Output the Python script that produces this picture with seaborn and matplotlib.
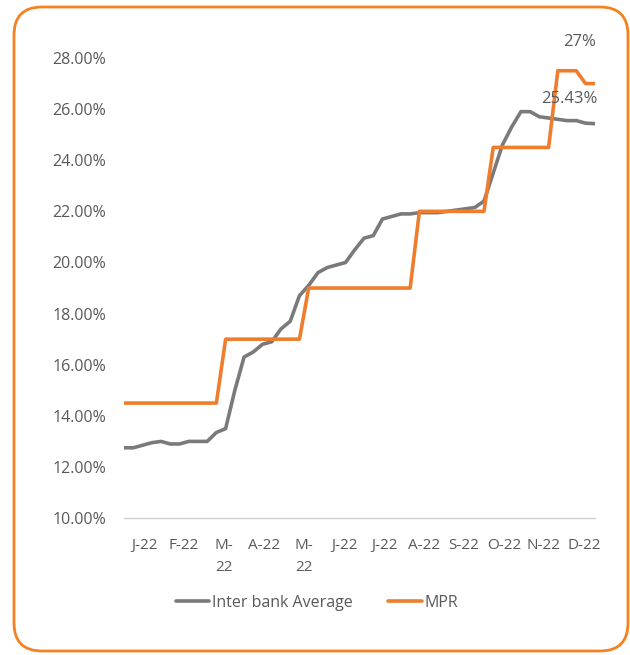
import matplotlib
matplotlib.use("Agg")
import matplotlib.pyplot as plt
import matplotlib.patches as mpatches
import numpy as np
import pandas as pd
import seaborn as sns

# weekly readings across 2022 (week 0 .. 51)
weeks = list(range(52))
interbank = [12.75, 12.75, 12.85, 12.95, 13.0, 12.9, 12.9, 13.0, 13.0, 13.0,
             13.35, 13.5, 15.0, 16.3, 16.5, 16.8, 16.9, 17.4, 17.7, 18.7,
             19.1, 19.6, 19.8, 19.9, 20.0, 20.5, 20.95, 21.05, 21.7, 21.8,
             21.9, 21.9, 21.95, 21.95, 21.95, 22.0, 22.05, 22.1, 22.15, 22.4,
             23.5, 24.6, 25.3, 25.9, 25.9, 25.7, 25.65, 25.6, 25.55, 25.55,
             25.45, 25.43]
mpr = [14.5] * 11 + [17.0] * 9 + [19.0] * 12 + [22.0] * 8 + [24.5] * 7 + [27.5] * 3 + [27.0] * 2
month_labels = ["J-22", "F-22", "M-\n22", "A-22", "M-\n22", "J-22", "J-22",
                "A-22", "S-22", "O-22", "N-22", "D-22"]
yticks = [10, 12, 14, 16, 18, 20, 22, 24, 26, 28]

df = pd.DataFrame({"week": weeks, "Inter bank Average": interbank, "MPR": mpr})
long = df.melt(id_vars="week", var_name="series", value_name="rate")

sns.set_style("white")
plt.rcParams["font.family"] = ["Open Sans", "DejaVu Sans"]

fig = plt.figure(figsize=(6.3, 6.55), dpi=100)
ax = fig.add_axes([0.197, 0.209, 0.747, 0.7025])

sns.lineplot(data=long, x="week", y="rate", hue="series",
             palette={"Inter bank Average": "#7a7a7a", "MPR": "#ef7d2e"},
             linewidth=2.6, ax=ax)

ax.set_ylim(10, 28)
ax.set_xlim(0, 51)
ax.set_yticks(yticks)
ax.set_yticklabels([f"{v:.2f}%" for v in yticks], color="#595959", fontsize=11.5)

per_month = 52 / 12
ax.set_xticks([k * per_month for k in range(12)])
ax.set_xticklabels([])
ax.set_xticks([(k + 0.5) * per_month for k in range(12)], minor=True)
ax.set_xticklabels(month_labels, minor=True, color="#595959", fontsize=11,
                   linespacing=1.7)
ax.tick_params(axis="x", which="major", length=5, color="#d0d0d0", width=1, direction="out")
ax.tick_params(axis="x", which="minor", length=0, pad=14)
ax.tick_params(axis="y", length=0, pad=13)
ax.set_xlabel("")
ax.set_ylabel("")

for side in ["top", "right", "left"]:
    ax.spines[side].set_visible(False)
ax.spines["bottom"].set_color("#d0d0d0")
ax.spines["bottom"].set_linewidth(1)

# end-point labels
ax.text(51.1, 28.3, "27%", ha="right", va="bottom", color="#595959", fontsize=12)
ax.text(51.3, 26.1, "25.43%", ha="right", va="bottom", color="#595959", fontsize=12)

handles, labels = ax.get_legend_handles_labels()
ax.legend(handles, labels, loc="upper center", bbox_to_anchor=(0.41, -0.135),
          ncol=2, frameon=False, fontsize=11.5, labelcolor="#595959",
          handlelength=2.1, handletextpad=0.2, columnspacing=2.2)

# rounded orange frame around the whole card
frame = mpatches.FancyBboxPatch((14, 4), 614, 644, boxstyle="round,pad=0,rounding_size=28",
                                transform=None, fill=False, edgecolor="#f58220", linewidth=2)
fig.patches.append(frame)

fig.savefig("out.png", dpi=100)
